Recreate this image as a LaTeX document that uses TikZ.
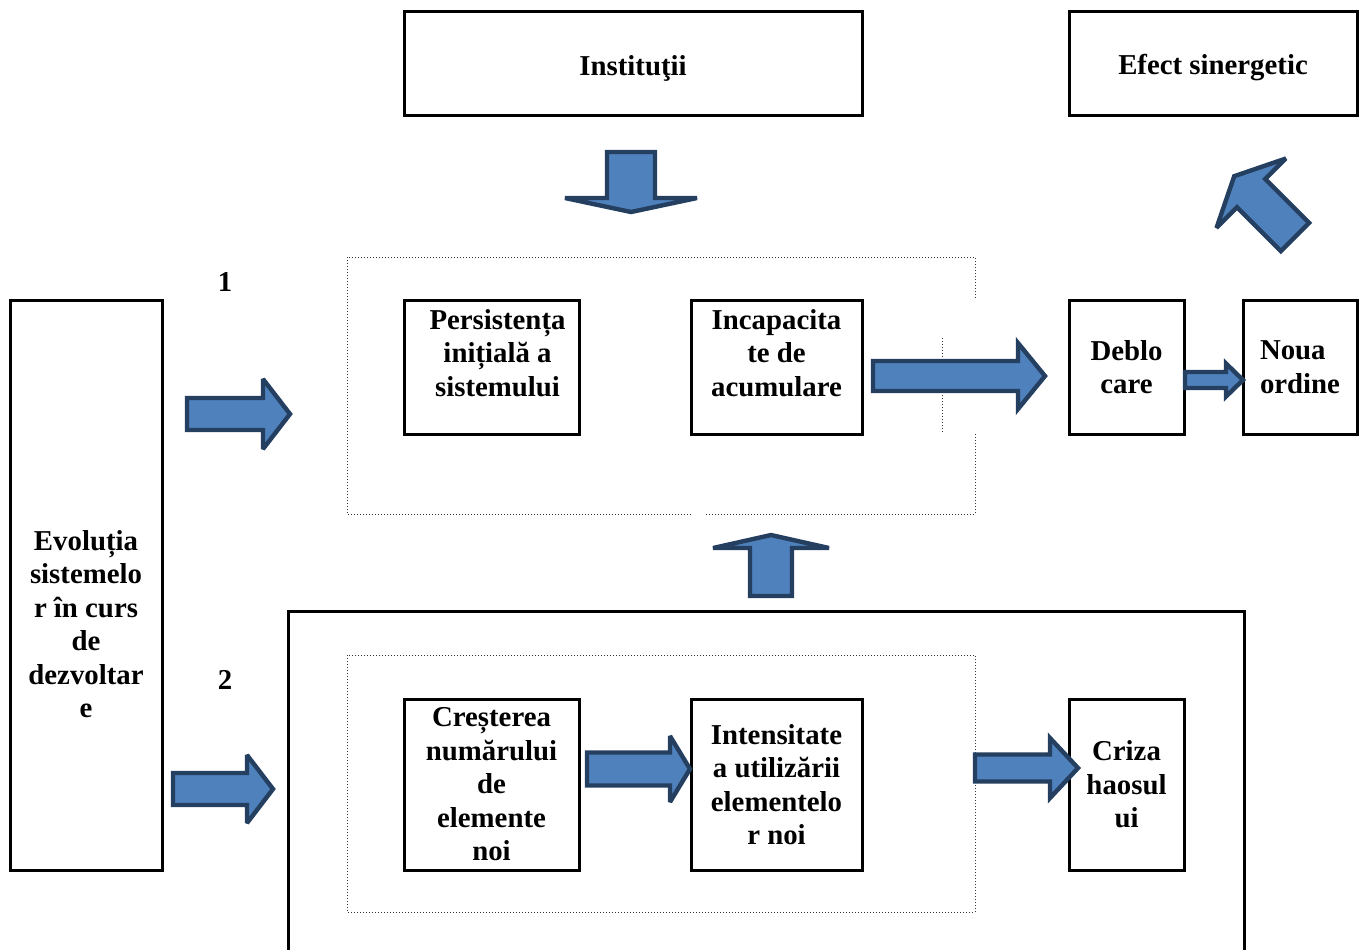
\documentclass[tikz,border=0pt]{standalone}
\usepackage{fontspec}
\setmainfont{Liberation Serif}
\definecolor{arrfill}{HTML}{4F81BD}
\definecolor{arrline}{HTML}{243F60}
\tikzset{
	txt/.style={font=\bfseries\fontsize{14.4}{16.75}\selectfont, align=center, inner sep=0pt},
	box/.style={txt, draw=black, line width=1.5pt},
	arr/.style={draw=arrline, fill=arrfill, line width=2.2pt, line join=miter, miter limit=3},
	dots/.style={densely dotted, line width=0.5pt, black!80}
}

\begin{document}
\begin{tikzpicture}[x=0.5pt, y=-0.5pt]
	\useasboundingbox (0,0) rectangle (1368,950);
	\draw[dots] (975,298) -- (975,257) -- (347,257) -- (347,514) -- (692,514);
	\draw[dots] (706,514) -- (975,514) -- (975,433);
	\draw[dots] (942,338) -- (942,432);
	\draw[dots] (347,655) rectangle (975,912);
	\draw[black, line width=1.5pt] (288,950) -- (288,611) -- (1244,611) -- (1244,950);

	\node[box, minimum width=229pt, minimum height=52pt, label={[txt, yshift=-2.5pt]center:Instituţii}] (inst) at (633,63) {};
	\node[box, minimum width=144pt, minimum height=52pt, label={[txt, yshift=-2.5pt]center:Efect sinergetic}] (efect) at (1213,63) {};
	\node[box, minimum width=87.5pt, minimum height=67pt, label={[txt, xshift=3pt, yshift=7pt]center:{Persistența\\ inițială a\\ sistemului}}] (pers) at (491.5,367) {};
	\node[box, minimum width=85.5pt, minimum height=67pt, label={[txt, yshift=7pt]center:{Incapacita\\ te de\\ acumulare}}] (incap) at (776.5,367) {};
	\node[box, minimum width=57.5pt, minimum height=67pt] (debl) at (1126.5,367) {Deblo\\ care};
	\node[box, minimum width=57pt, minimum height=67pt, align=left] (noua) at (1300,367) {Noua\\ ordine};
	\node[box, minimum width=76pt, minimum height=285pt, label={[txt, yshift=-19.5pt]center:{Evoluția\\ sistemelo\\ r în curs\\ de\\ dezvoltar\\ e}}] (evol) at (86,585) {};
	\node[box, minimum width=87.5pt, minimum height=85.5pt] (cres) at (491.5,784.5) {Creșterea\\ numărului\\ de\\ elemente\\ noi};
	\node[box, minimum width=85.5pt, minimum height=85.5pt] (intens) at (776.5,784.5) {Intensitate\\ a utilizării\\ elementelo\\ r noi};
	\node[box, minimum width=57.5pt, minimum height=85.5pt] (criza) at (1126.5,784.5) {Criza\\ haosul\\ ui};
	\node[txt] (one) at (225,282) {1};
	\node[txt] (two) at (225,680) {2};

	\foreach \x/\y/\a/\l/\w/\h/\k in {187/414/0/76/16/35/27, 173/789/0/74/16/34/26, 631/152/-90/46/24/66/14, 771/596/90/48/21/58/13, 873/376/0/145/15/33/27, 1185/380/0/41/8/16.5/17, 587/769/0/83/16.5/33/20, 975/768/0/75/13.5/30/28, 1295/237/135/62/20/49/24}{
		\draw[arr, shift={(\x,\y)}, rotate=\a] (0,-\w) -- (\l,-\w) -- (\l,-\h) -- (\l+\k,0) -- (\l,\h) -- (\l,\w) -- (0,\w) -- cycle;
	}
\end{tikzpicture}
\end{document}
